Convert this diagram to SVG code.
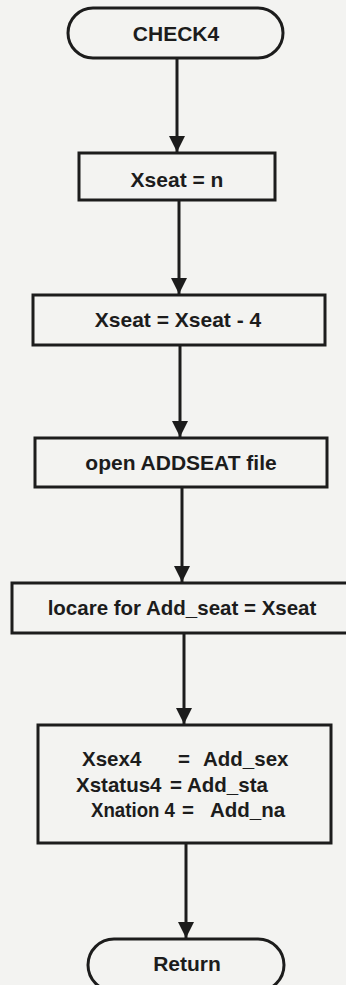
<svg xmlns="http://www.w3.org/2000/svg" width="346" height="985" viewBox="0 0 346 985">
<style>
.bg{fill:#f3f3f1}
.shape{fill:#f3f3f1;stroke:#1c1c1c;stroke-width:3}
.conn{stroke:#1c1c1c;stroke-width:3;fill:none}
.t{font-family:"Liberation Sans",Arial,sans-serif;font-weight:bold;font-size:21px;fill:#1c1c1c}
.m{font-size:20.5px}
.c{text-anchor:middle}
</style>
<defs>
<marker id="arr" markerUnits="userSpaceOnUse" markerWidth="18" markerHeight="16" refX="16" refY="8" orient="auto">
<path d="M0,0 L16,8 L0,16 Z" fill="#1c1c1c"/>
</marker>
</defs>
<rect class="bg" x="0" y="0" width="346" height="985"/>
<g id="connectors">
<line class="conn" x1="177" y1="58" x2="177" y2="152" marker-end="url(#arr)"/>
<line class="conn" x1="179" y1="200" x2="179" y2="294" marker-end="url(#arr)"/>
<line class="conn" x1="180" y1="345" x2="180" y2="437" marker-end="url(#arr)"/>
<line class="conn" x1="182" y1="487" x2="182" y2="582" marker-end="url(#arr)"/>
<line class="conn" x1="184" y1="633" x2="184" y2="724" marker-end="url(#arr)"/>
<line class="conn" x1="186" y1="843" x2="186" y2="938" marker-end="url(#arr)"/>
</g>
<g id="check4">
<rect class="shape" x="68" y="8" width="215" height="50" rx="25"/>
<text class="t c" x="176" y="41">CHECK4</text>
</g>
<g id="xseat-n">
<rect class="shape" x="79" y="153" width="196" height="47"/>
<text class="t c" x="177" y="187">Xseat = n</text>
</g>
<g id="xseat-minus4">
<rect class="shape" x="33" y="295" width="292" height="50"/>
<text class="t c" x="178" y="327">Xseat = Xseat - 4</text>
</g>
<g id="open-addseat">
<rect class="shape" x="35" y="438" width="292" height="49"/>
<text class="t c" x="181" y="470">open ADDSEAT file</text>
</g>
<g id="locare">
<rect class="shape" x="12" y="583" width="340" height="50"/>
<text class="t c m" x="182" y="615">locare for Add_seat = Xseat</text>
</g>
<g id="assign">
<rect class="shape" x="38" y="725" width="293" height="118"/>
<text class="t m" y="766"><tspan x="82">Xsex4</tspan><tspan x="178">=</tspan><tspan x="203">Add_sex</tspan></text>
<text class="t m" y="792"><tspan x="76">Xstatus4</tspan><tspan x="170">=</tspan><tspan x="187">Add_sta</tspan></text>
<text class="t m" y="817"><tspan x="91" textLength="84" lengthAdjust="spacingAndGlyphs">Xnation 4</tspan><tspan x="182">=</tspan><tspan x="210">Add_na</tspan></text>
</g>
<g id="return">
<rect class="shape" x="88" y="939" width="196" height="52" rx="26"/>
<text class="t c" x="187" y="971">Return</text>
</g>
</svg>
